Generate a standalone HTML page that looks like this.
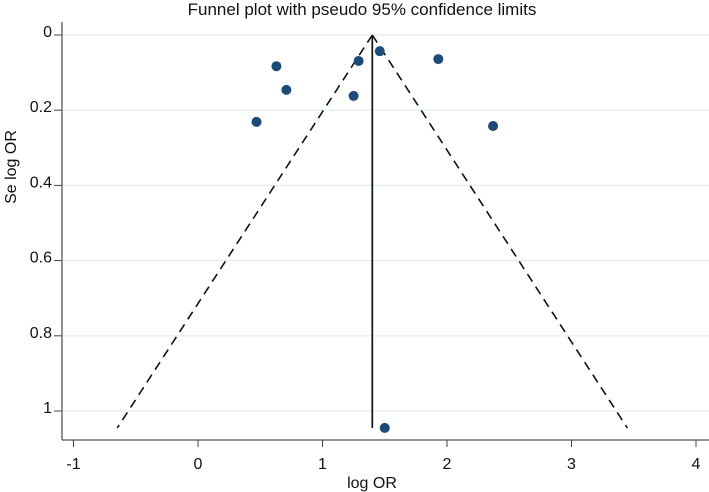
<!DOCTYPE html>
<html><head><meta charset="utf-8"><style>
html,body{margin:0;padding:0;background:#fff;}
svg{display:block;font-family:"Liberation Sans",Arial,sans-serif;}
</style></head><body>
<svg id="chart" width="709" height="492" viewBox="0 0 709 492"></svg>
<script>
const logOR = [0.63, 0.71, 0.47, 1.25, 1.29, 1.46, 1.93, 2.37, 1.50];
const seLogOR = [0.083, 0.146, 0.231, 0.162, 0.069, 0.043, 0.064, 0.242, 1.045];
const xTicks = [-1, 0, 1, 2, 3, 4];
const yTicks = [0, 0.2, 0.4, 0.6, 0.8, 1];
const pooled = [1.4];
const seMax = [1.045];

const NS = "http://www.w3.org/2000/svg";
const svg = document.getElementById('chart');
const X = v => 198 + v * 124.5;
const Y = v => 35 + v * 376;
function mk(tag, attrs, parent) {
  const e = document.createElementNS(NS, tag);
  for (const k in attrs) e.setAttribute(k, attrs[k]);
  (parent || svg).appendChild(e);
  return e;
}
yTicks.forEach(t => {
  const g = mk('line', {x1: 62, x2: 709, y1: Y(t), y2: Y(t), stroke: '#e2eeee', 'stroke-width': 1.2});
  
  
  mk('line', {x1: 54, x2: 62, y1: Y(t), y2: Y(t), stroke: '#444', 'stroke-width': 1});
  const lb = mk('text', {x: 52, y: Y(t) + 2, 'text-anchor': 'end', 'font-size': 16, fill: '#111'});
  lb.textContent = String(t);
  
  
});
const ya = mk('line', {x1: 62, x2: 62, y1: 22, y2: 440, stroke: '#555', 'stroke-width': 1.3});


const xa = mk('line', {x1: 62, x2: 709, y1: 440, y2: 440, stroke: '#555', 'stroke-width': 1.3});


xTicks.forEach(t => {
  mk('line', {x1: X(t), x2: X(t), y1: 440, y2: 447, stroke: '#444', 'stroke-width': 1});
  const lb = mk('text', {x: X(t), y: 469, 'text-anchor': 'middle', 'font-size': 16, fill: '#111'});
  lb.textContent = String(t);
  
  
});
const p = pooled[0], sm = seMax[0];
const lft = mk('line', {x1: X(p), y1: Y(0), x2: X(p - 1.96 * sm), y2: Y(sm), stroke: '#111', 'stroke-width': 1.6, 'stroke-dasharray': '9,6'});


const rgt = mk('line', {x1: X(p), y1: Y(0), x2: X(p + 1.96 * sm), y2: Y(sm), stroke: '#111', 'stroke-width': 1.6, 'stroke-dasharray': '9,6'});


const vl = mk('line', {x1: X(p), y1: Y(0), x2: X(p), y2: Y(sm), stroke: '#111', 'stroke-width': 1.7});


logOR.forEach((v, i) => {
  const c = mk('circle', {cx: X(v), cy: Y(seLogOR[i]), r: 5, fill: '#1d4a76'});
  
  
});
const tt = mk('text', {x: 362, y: 15, 'text-anchor': 'middle', 'font-size': 17, fill: '#111'});
tt.textContent = 'Funnel plot with pseudo 95% confidence limits';


const xt = mk('text', {x: 372, y: 488, 'text-anchor': 'middle', 'font-size': 16, fill: '#111'});
xt.textContent = 'log OR';


const yt = mk('text', {x: 0, y: 0, 'text-anchor': 'middle', 'font-size': 16, fill: '#111', transform: 'translate(16,167) rotate(-90)'});
yt.textContent = 'Se log OR';


</script>
</body></html>
